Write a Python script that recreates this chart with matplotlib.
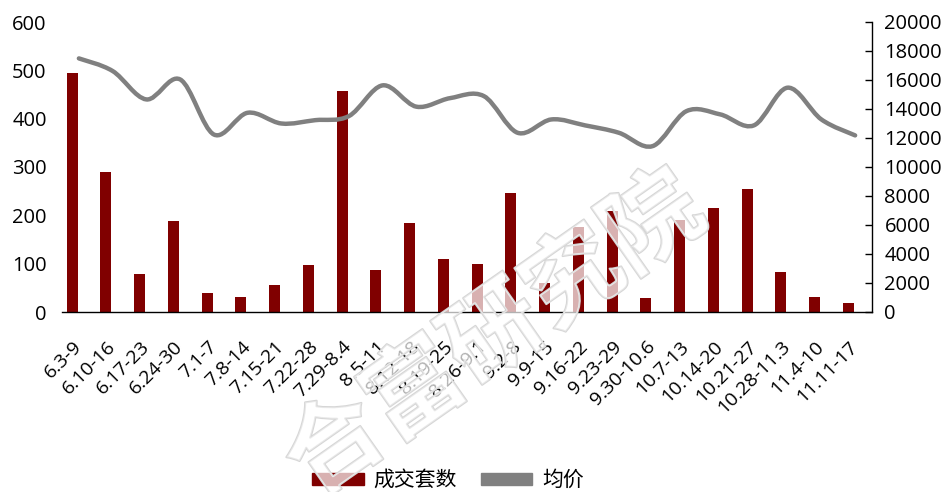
"""Weekly deals (bars) and average price (smooth line), dual axis."""
import numpy as np
import matplotlib
matplotlib.use("Agg")
import matplotlib.pyplot as plt
from matplotlib.path import Path
from matplotlib.patches import PathPatch, Patch
import matplotlib.patheffects as pe

plt.rcParams['font.family'] = ['Open Sans', 'Noto Sans CJK SC', 'DejaVu Sans']

# ── data ─────────────────────────────────────────────────────────────────────
weeks = ["6.3-9", "6.10-16", "6.17-23", "6.24-30", "7.1-7", "7.8-14",
         "7.15-21", "7.22-28", "7.29-8.4", "8.5-11", "8.12-18", "8.19-25",
         "8.26-9.1", "9.2-8", "9.9-15", "9.16-22", "9.23-29", "9.30-10.6",
         "10.7-13", "10.14-20", "10.21-27", "10.28-11.3", "11.4-10", "11.11-17"]
deals = [495, 290, 79, 189, 39, 32, 56, 97, 457, 86, 184, 110,
         99, 247, 59, 176, 209, 29, 191, 216, 254, 83, 31, 18]
avg_price = [17490, 16620, 14660, 16040, 12240, 13740, 13000, 13230, 13510,
             15630, 14160, 14750, 14890, 12360, 13280, 12870, 12360, 11440,
             13850, 13630, 12870, 15470, 13280, 12180]

BAR_COLOR = "#800000"
LINE_COLOR = "#808080"

fig = plt.figure(figsize=(9.53, 4.92), dpi=100)
ax = fig.add_axes([62 / 953, 1 - 312 / 492, 810 / 953, 290 / 492])
ax2 = ax.twinx()

x = np.arange(len(weeks))
ax.bar(x - 0.2, deals, width=0.33, color=BAR_COLOR, zorder=2)

# smooth line like Excel (Catmull-Rom as cubic Bezier segments)
pts = np.column_stack([x, avg_price]).astype(float)
verts = [pts[0]]
codes = [Path.MOVETO]
n = len(pts)
for i in range(n - 1):
    p0 = pts[max(i - 1, 0)]
    p1 = pts[i]
    p2 = pts[i + 1]
    p3 = pts[min(i + 2, n - 1)]
    verts += [p1 + (p2 - p0) / 6, p2 - (p3 - p1) / 6, p2]
    codes += [Path.CURVE4] * 3
ax2.add_patch(PathPatch(Path(verts, codes), facecolor="none",
                        edgecolor=LINE_COLOR, lw=3.2, capstyle="round",
                        zorder=3))

ax.set_xlim(-0.5, len(weeks) - 0.5)
ax.set_ylim(0, 600)
ax.set_yticks(np.arange(0, 601, 100))
ax2.set_ylim(0, 20000)
ax2.set_yticks(np.arange(0, 20001, 2000))

for s in ("top", "left", "right"):
    ax.spines[s].set_visible(False)
for s in ("top", "left", "bottom"):
    ax2.spines[s].set_visible(False)
ax.spines["bottom"].set_linewidth(1.0)
ax2.spines["right"].set_linewidth(1.0)

ax.tick_params(axis="y", length=0, pad=11, labelsize=14.5)
ax2.tick_params(axis="y", direction="in", length=5, width=1, pad=9,
                labelsize=14.5)
ax.set_xticks(x)
ax.set_xticklabels(weeks, rotation=45, ha="right", va="center",
                   rotation_mode="anchor", fontsize=14)
ax.tick_params(axis="x", length=0, pad=23)

# legend at the bottom
handles = [Patch(color=BAR_COLOR, label="成交套数"),
           Patch(color=LINE_COLOR, label="均价")]
fig.legend(handles=handles, loc="center", bbox_to_anchor=(448 / 953, 1 - 480 / 492),
           ncol=2, frameon=False, handlelength=2.45,
           handleheight=0.5, handletextpad=0.45, columnspacing=1.2,
           prop={"family": ["Noto Sans CJK SC"], "size": 15})

# watermark
fig.text(495 / 953, 1 - 336 / 492, "合富研究院", rotation=35, ha="center",
         va="center", fontsize=70, fontweight="bold",
         family=["Noto Sans CJK SC"], color=(1, 1, 1, 0.45), zorder=10,
         path_effects=[pe.withStroke(linewidth=1.5, foreground="#d6d6d6")])

fig.savefig("out.png", dpi=100)
